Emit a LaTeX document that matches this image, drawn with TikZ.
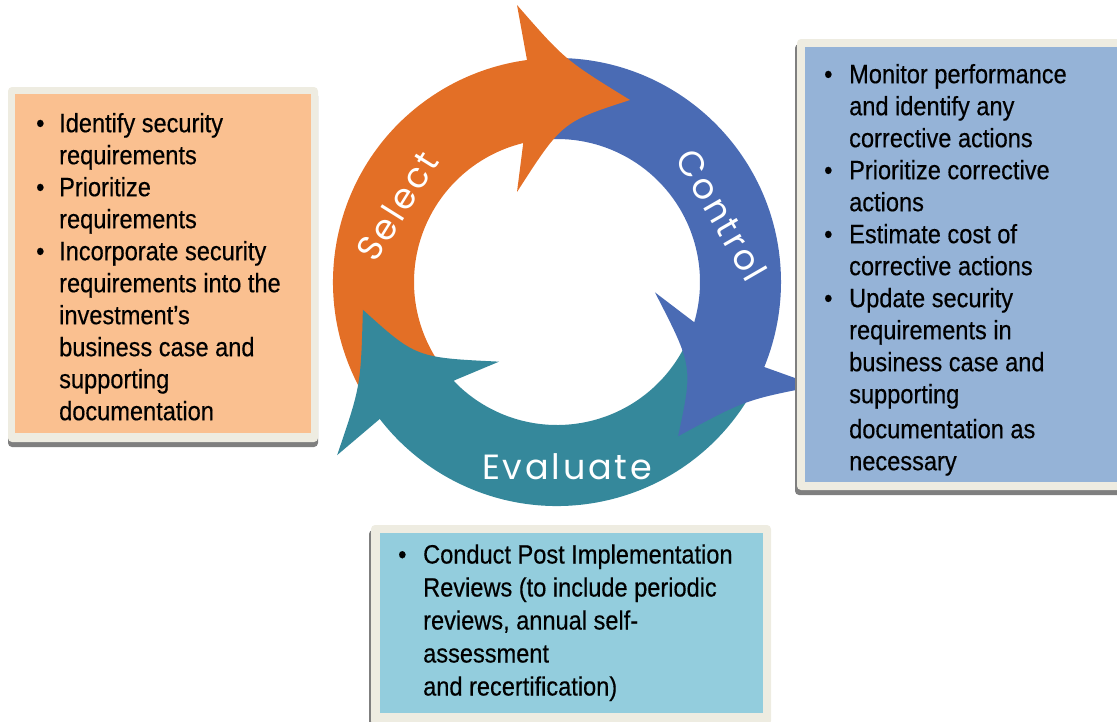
\documentclass[tikz,border=0pt]{standalone}
\usepackage{fontspec}
\setmainfont{Liberation Sans}[FakeStretch=0.89, FakeBold=0.4]
\newfontfamily\ringfont{Poppins}[LetterSpace=8]
\definecolor{selectc}{HTML}{E36F26}
\definecolor{controlc}{HTML}{4A6BB4}
\definecolor{evalc}{HTML}{35889B}
\definecolor{framec}{HTML}{EEECE1}
\definecolor{shadowc}{HTML}{7F7F7F}
\definecolor{selectbox}{HTML}{FAC090}
\definecolor{controlbox}{HTML}{95B3D7}
\definecolor{evalbox}{HTML}{93CDDD}
\tikzset{
  ringtext/.style={text=white, inner sep=0pt, font=\ringfont\fontsize{35}{40}\selectfont},
  boxtext/.style={anchor=north west, inner sep=0pt, font=\fontsize{26.5}{32}\selectfont},
  boxframe/.style={fill=framec, rounded corners=4pt},
  boxshadow/.style={fill=shadowc, rounded corners=4pt},
}
\newcommand\ringshaft[2]{\fill[#2, rotate=#1] (212:224) arc[start angle=212, end angle=96, radius=224] -- (100:143) arc[start angle=100, end angle=212, radius=143] -- cycle;}
\newcommand\ringhead[2]{\fill[#2, rotate=#1] (-30,222) -- (-40,277) .. controls (8,222) .. (73,182) .. controls (5,160) .. (-40,90) -- (-34,137) -- cycle;}
\begin{document}
\begin{tikzpicture}[x=1pt, y=-1pt]
\useasboundingbox (0,0) rectangle (1117,721);
\begin{scope}[shift={(557,282)}, y=1pt]
\ringshaft{0}{selectc}
\ringshaft{-120}{controlc}
\ringshaft{120}{evalc}
\ringhead{0}{selectc}
\ringhead{-120}{controlc}
\ringhead{120}{evalc}
\node[ringtext, rotate=58] (select) at (-160,76) {Select};
\node[ringtext, rotate=-60] (control) at (165,67) {Control};
\node[ringtext] (evaluate) at (10,-185) {Evaluate};
\end{scope}
\fill[boxshadow] (8,92) rectangle (318,447);
\fill[boxframe] (8,87) rectangle (318,442);
\fill[selectbox] (15,94) rectangle (311,433);
\fill[boxshadow] (795,44) rectangle (1123,495);
\fill[boxframe] (797,39) rectangle (1125,490);
\fill[controlbox] (805,47) rectangle (1122,482);
\fill[boxshadow] (369,530) rectangle (769,730);
\fill[boxframe] (371,525) rectangle (771,725);
\fill[evalbox] (380,533) rectangle (763,713);
\node[boxtext] (select list) at (36,109.6) {\begin{tabular}{@{}p{23pt}@{}l@{}}
\textbullet & Identify security\\
 & requirements\\
\textbullet & Prioritize\\
 & requirements\\
\textbullet & Incorporate security\\
 & requirements into the\\
 & investment’s\\
 & business case and\\
 & supporting\\
 & documentation
\end{tabular}};
\node[boxtext] (control list) at (824,60.6) {\begin{tabular}{@{}p{25pt}@{}l@{}}
\textbullet & Monitor performance\\
 & and identify any\\
 & corrective actions\\
\textbullet & Prioritize corrective\\
 & actions\\
\textbullet & Estimate cost of\\
 & corrective actions\\
\textbullet & Update security\\
 & requirements in\\
 & business case and\\
 & supporting\\[3pt]
 & documentation as\\
 & necessary
\end{tabular}};
\node[boxtext, font=\fontsize{26.5}{33}\selectfont] (evaluate list) at (398,540.2) {\begin{tabular}{@{}p{25pt}@{}l@{}}
\textbullet & Conduct Post Implementation\\
 & Reviews (to include periodic\\
 & reviews, annual self-\\
 & assessment\\
 & and recertification)
\end{tabular}};
\end{tikzpicture}
\end{document}
